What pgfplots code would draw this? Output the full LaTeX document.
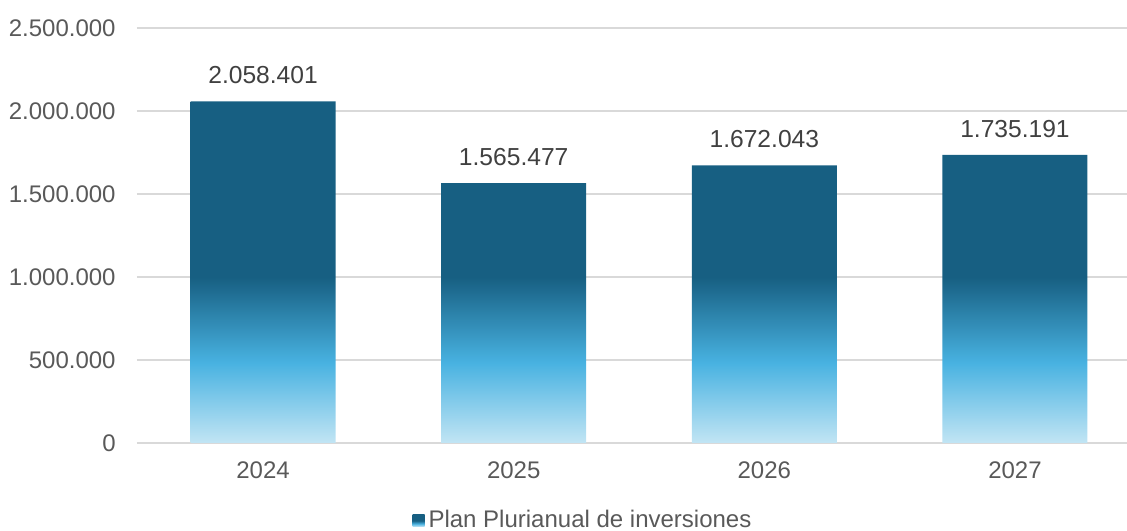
\documentclass[border=0pt]{standalone}
\usepackage{pgfplots}
\pgfplotsset{compat=1.18}
\usepackage{fontspec}
\setmainfont{Liberation Sans}
\definecolor{bdark}{HTML}{175F82}
\definecolor{bbright}{HTML}{48B2E1}
\definecolor{blight}{HTML}{C2E5F4}
\definecolor{tickgray}{HTML}{595959}
\definecolor{labgray}{HTML}{404040}
\definecolor{gridgray}{HTML}{D9D9D9}
\pgfdeclareverticalshading{barshade}{100bp}{color(0bp)=(blight); color(25bp)=(blight); color(36.75bp)=(bbright); color(49.25bp)=(bdark); color(75bp)=(bdark); color(100bp)=(bdark)}
\begin{document}
\begin{tikzpicture}
\path[use as bounding box] (-68.5bp,-44bp) rectangle (495bp,221.5bp);
\begin{axis}[
  at={(0,0)}, anchor=south west,
  width=495bp, height=207.5bp, scale only axis,
  xmin=-0.503, xmax=3.447,
  ymin=0, ymax=2500000,
  scaled y ticks=false,
  xtick={0,1,2,3}, xticklabels={2024,2025,2026,2027},
  ytick={0,500000,1000000,1500000,2000000,2500000},
  yticklabels={0,500.000,1.000.000,1.500.000,2.000.000,2.500.000},
  major tick length=0pt,
  axis x line*=bottom, axis y line*=left,
  x axis line style={draw=gridgray, line width=0.7bp},
  y axis line style={draw=none},
  ymajorgrids, grid style={draw=gridgray, line width=0.6bp},
  yticklabel style={font=\fontsize{12bp}{14bp}\selectfont, text=tickgray, inner sep=0pt, anchor=east, xshift=-10.5bp},
  xticklabel style={font=\fontsize{12bp}{14bp}\selectfont, text=tickgray, inner sep=0pt, anchor=north, yshift=-9.25bp},
  legend style={at={(0.4515,-0.187)}, anchor=center, draw=none, fill=none,
    font=\fontsize{12bp}{14bp}\selectfont, text=tickgray, inner sep=0pt,
    /tikz/every even column/.append style={column sep=0pt}},
  legend cell align=left,
  legend image code/.code={\path[shading=barshade] (0bp,-3bp) rectangle (6bp,3bp);},
]
\addplot[ybar, bar width=72.5bp, draw=none, shading=barshade,
  point meta=explicit symbolic,
  nodes near coords={\pgfplotspointmeta},
  nodes near coords style={font=\fontsize{12.3bp}{14bp}\selectfont, text=labgray, inner sep=0pt, anchor=center, yshift=13bp}]
  coordinates {(0,2058401)[2.058.401] (1,1565477)[1.565.477] (2,1672043)[1.672.043] (3,1735191)[1.735.191]};
\addlegendentry{Plan Plurianual de inversiones}
\end{axis}
\end{tikzpicture}
\end{document}
